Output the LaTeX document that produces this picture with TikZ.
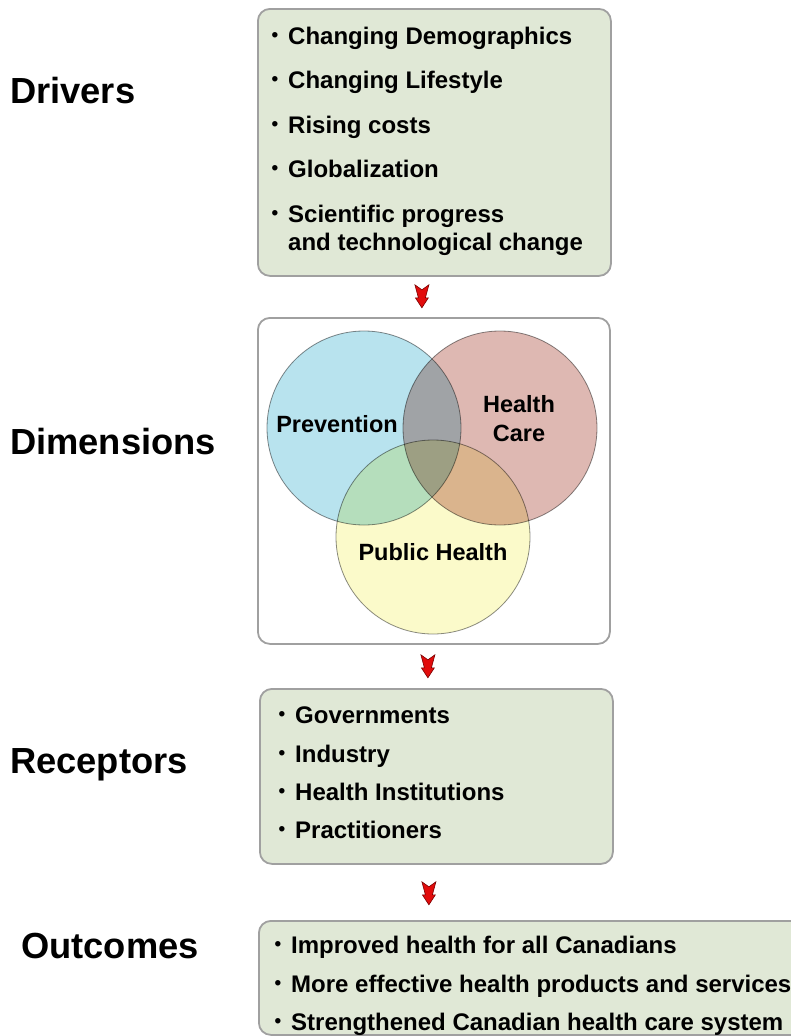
\documentclass[tikz,border=0pt]{standalone}
\usepackage{fontspec}
\setmainfont{Liberation Sans}
\usetikzlibrary{calc}
\definecolor{boxgreen}{RGB}{224,232,214}
\definecolor{boxedge}{RGB}{160,160,160}
\definecolor{prevblue}{RGB}{184,227,238}
\definecolor{carered}{RGB}{222,184,178}
\definecolor{pubyellow}{RGB}{251,250,202}
\definecolor{arrowred}{RGB}{226,12,12}
\definecolor{arrowedge}{RGB}{120,0,0}
\newcommand\itm[1]{\llap{\raisebox{3pt}{\fontsize{19}{19}\selectfont\textbullet}\hspace{10pt}}#1}
\newcommand\redarrow[1]{\draw[fill=arrowred, draw=arrowedge, line width=0.6pt, shift={(#1)}] (-7,0) -- (0,5) -- (7,0) -- (3.5,13) -- (6.5,13) -- (0,23) -- (-6.5,13) -- (-3.5,13) -- cycle;}

\begin{document}
\begin{tikzpicture}[x=1pt, y=-1pt, font=\bfseries,
	greenbox/.style={draw=boxedge, line width=1.8pt, fill=boxgreen, rounded corners=12pt, anchor=north west, inner sep=0},
	whitebox/.style={greenbox, fill=white},
	item/.style={anchor=base west, inner sep=0, font=\bfseries\fontsize{24}{28}\selectfont},
	rowlabel/.style={anchor=base west, inner sep=0, font=\bfseries\fontsize{36.3}{40}\selectfont},
	venn/.style={circle, minimum size=194pt, inner sep=0, draw=black!45, line width=0.8pt},
	vennlabel/.style={inner sep=0, align=center, font=\bfseries\fontsize{23.5}{29}\selectfont}]
			%%%%% START %%%%%
			\useasboundingbox (0,0) rectangle (791,1036);
			\clip (0,0) rectangle (791,1036);
			
			% row labels
			\node[rowlabel] (lbldrivers) at (10,103) {Drivers};
			\node[rowlabel] (lbldims) at (10,454) {Dimensions};
			\node[rowlabel] (lblrecept) at (10,773) {Receptors};
			\node[rowlabel] (lbloutcomes) at (21,958) {Outcomes};
			
			% drivers
			\node[greenbox, minimum width=353pt, minimum height=267pt] (drivers) at (257,8) {};
			\node[item] (drv1) at (288,44) {\itm{Changing Demographics}};
			\node[item] (drv2) at (288,88) {\itm{Changing Lifestyle}};
			\node[item] (drv3) at (288,133) {\itm{Rising costs}};
			\node[item] (drv4) at (288,177) {\itm{Globalization}};
			\node[item] (drv5) at (288,222) {\itm{Scientific progress}};
			\node[item] (drv6) at (288,250) {and technological change};
			
			% dimensions
			\node[whitebox, minimum width=352pt, minimum height=326pt] (dims) at (257,317) {};
			\begin{scope}[blend group=multiply]
			\node[venn, fill=prevblue] (prev) at (364,428) {};
			\node[venn, fill=carered] (care) at (500,428) {};
			\node[venn, fill=pubyellow] (pub) at (433,537) {};
			\end{scope}
			\node[vennlabel, anchor=base] (prevtxt) at (337,432) {Prevention};
			\node[vennlabel] (caretxt) at (519,419) {Health\\Care};
			\node[vennlabel, anchor=base] (pubtxt) at (433,560) {Public Health};
			
			% receptors
			\node[greenbox, minimum width=353pt, minimum height=175pt] (recept) at (259,688) {};
			\node[item] (rcp1) at (295,723) {\itm{Governments}};
			\node[item] (rcp2) at (295,762) {\itm{Industry}};
			\node[item] (rcp3) at (295,800) {\itm{Health Institutions}};
			\node[item] (rcp4) at (295,838) {\itm{Practitioners}};
			
			% outcomes
			\node[greenbox, minimum width=560pt, minimum height=114pt] (outcomes) at (258,920) {};
			\node[item] (out1) at (291,953) {\itm{Improved health for all Canadians}};
			\node[item] (out2) at (291,992) {\itm{More effective health products and services}};
			\node[item] (out3) at (291,1030) {\itm{Strengthened Canadian health care system}};
			
			% arrows between the boxes
			\redarrow{$(drivers.south)+(-12.5,8)$}
			\redarrow{$(dims.south)+(-6,10)$}
			\redarrow{$(recept.south)+(-7.5,17)$}
			
			%%%%% END %%%%%
		\end{tikzpicture}
\end{document}
